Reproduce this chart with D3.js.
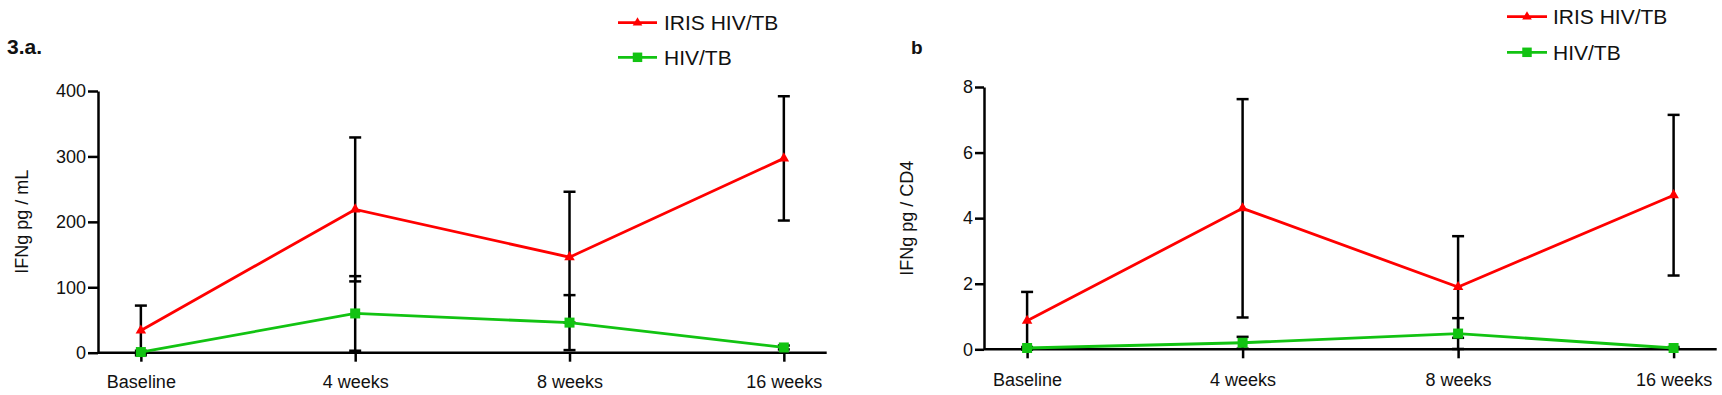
<!DOCTYPE html>
<html>
<head>
<meta charset="utf-8">
<script src="https://cdn.jsdelivr.net/npm/d3@7"></script>
<style>
  html, body { margin: 0; padding: 0; background: #fff; }
  svg { display: block; }
  text { font-family: "Liberation Sans", Arial, sans-serif; fill: #111; }
</style>
</head>
<body>
<svg id="chart" width="1722" height="395"></svg>
<script>
// ---- data ----
const categories = ["Baseline", "4 weeks", "8 weeks", "16 weeks"];
const seriesNames = ["IRIS HIV/TB", "HIV/TB"];

// Panel 3.a : IFNg pg / mL (mean, SD)
const irisA   = [34, 219, 146, 297];
const irisASd = [38, 110, 100, 95];
const hivA    = [1, 60, 46, 8];
const hivASd  = [2, 57, 42, 3];
const ticksA  = [0, 100, 200, 300, 400];

// Panel b : IFNg pg / CD4 (mean, SD)
const irisB   = [0.87, 4.3, 1.9, 4.7];
const irisBSd = [0.88, 3.33, 1.55, 2.45];
const hivB    = [0.04, 0.2, 0.48, 0.04];
const hivBSd  = [0.03, 0.18, 0.47, 0.03];
const ticksB  = [0, 2, 4, 6, 8];

const RED = "#ff0000";
const GREEN = "#12c312";

const svg = d3.select("#chart");

const panels = [
  {
    tag: "3.a.", tagX: 7, tagY: 54, tagSize: 21,
    title: "IFNg pg / mL", titleX: 22,
    x0: 98, x1: 826.7, yTop: 91, yBot: 352.7,
    domain: [0, 400], ticks: ticksA, tickSize: 10, xPad: 14,
    series: [
      { name: seriesNames[0], mean: irisA, sd: irisASd, color: RED, shape: d3.symbolTriangle },
      { name: seriesNames[1], mean: hivA, sd: hivASd, color: GREEN, shape: d3.symbolSquare }
    ],
    legX0: 618, legX1: 657, legY: [22.7, 57.3], legTextX: 664
  },
  {
    tag: "b", tagX: 911, tagY: 54, tagSize: 19,
    title: "IFNg pg / CD4", titleX: 907,
    x0: 984, x1: 1716.7, yTop: 87, yBot: 349.3,
    domain: [0, 8], ticks: ticksB, tickSize: 9, xPad: 15,
    series: [
      { name: seriesNames[0], mean: irisB, sd: irisBSd, color: RED, shape: d3.symbolTriangle },
      { name: seriesNames[1], mean: hivB, sd: hivBSd, color: GREEN, shape: d3.symbolSquare }
    ],
    legX0: 1507, legX1: 1547, legY: [16.7, 52.3], legTextX: 1553
  }
];

panels.forEach(p => {
  const g = svg.append("g");
  const x = d3.scalePoint().domain(categories).range([p.x0, p.x1]).padding(0.2);
  const y = d3.scaleLinear().domain(p.domain).range([p.yBot, p.yTop]);

  // y axis
  const yAx = g.append("g").attr("transform", `translate(${p.x0},0)`)
    .call(d3.axisLeft(y).tickValues(p.ticks).tickSize(p.tickSize).tickSizeOuter(0).tickPadding(2));
  yAx.select(".domain").attr("stroke", "#000").attr("stroke-width", 2.5);
  yAx.selectAll(".tick line").attr("stroke", "#000").attr("stroke-width", 2.5);
  yAx.selectAll(".tick text").attr("font-size", 18).attr("fill", "#111")
    .style("font-family", "'Liberation Sans', Arial, sans-serif");

  // x axis
  const xAx = g.append("g").attr("transform", `translate(0,${p.yBot})`)
    .call(d3.axisBottom(x).tickSize(9).tickSizeOuter(0).tickPadding(p.xPad));
  xAx.select(".domain").attr("stroke", "#000").attr("stroke-width", 2.5)
    .attr("d", `M${p.x0},0H${p.x1}`);
  xAx.selectAll(".tick line").attr("stroke", "#000").attr("stroke-width", 2.5);
  xAx.selectAll(".tick text").attr("font-size", 18).attr("fill", "#111")
    .style("font-family", "'Liberation Sans', Arial, sans-serif");

  // y title
  g.append("text")
    .attr("transform", `translate(${p.titleX},${(p.yTop + p.yBot) / 2}) rotate(-90)`)
    .attr("text-anchor", "middle").attr("dominant-baseline", "central")
    .attr("font-size", 18).text(p.title);

  // panel tag
  g.append("text").attr("x", p.tagX).attr("y", p.tagY)
    .attr("font-size", p.tagSize).attr("font-weight", "bold").text(p.tag);

  // error bars
  p.series.forEach(s => {
    const eb = g.append("g");
    categories.forEach((c, i) => {
      const cx = x(c);
      const hi = y(s.mean[i] + s.sd[i]);
      const lo = y(s.mean[i] - s.sd[i]);
      eb.append("line").attr("x1", cx).attr("x2", cx).attr("y1", hi).attr("y2", lo)
        .attr("stroke", "#000").attr("stroke-width", 2.5);
      [hi, lo].forEach(yy => {
        eb.append("line").attr("x1", cx - 6).attr("x2", cx + 6).attr("y1", yy).attr("y2", yy)
          .attr("stroke", "#000").attr("stroke-width", 2.5);
      });
    });
  });

  // lines (green first, red on top)
  [...p.series].reverse().forEach(s => {
    const line = d3.line().x((d, i) => x(categories[i])).y(d => y(d));
    g.append("path").datum(s.mean).attr("d", line)
      .attr("fill", "none").attr("stroke", s.color).attr("stroke-width", 2.8);
  });

  // markers
  [...p.series].reverse().forEach(s => {
    const sym = d3.symbol().type(s.shape).size(s.shape === d3.symbolSquare ? 100 : 48);
    g.selectAll(null).data(s.mean).enter().append("path")
      .attr("d", sym)
      .attr("transform", (d, i) => `translate(${x(categories[i])},${y(d)})`)
      .attr("fill", s.color);
  });

  // legend
  p.series.forEach((s, k) => {
    const ly = p.legY[k];
    g.append("line").attr("x1", p.legX0).attr("x2", p.legX1).attr("y1", ly).attr("y2", ly)
      .attr("stroke", s.color).attr("stroke-width", 2.8);
    const sym = d3.symbol().type(s.shape).size(s.shape === d3.symbolSquare ? 90 : 40);
    g.append("path").attr("d", sym)
      .attr("transform", `translate(${(p.legX0 + p.legX1) / 2},${ly})`)
      .attr("fill", s.color);
    g.append("text").attr("x", p.legTextX).attr("y", ly)
      .attr("dominant-baseline", "central").attr("font-size", 21).text(s.name);
  });
});
</script>
</body>
</html>
